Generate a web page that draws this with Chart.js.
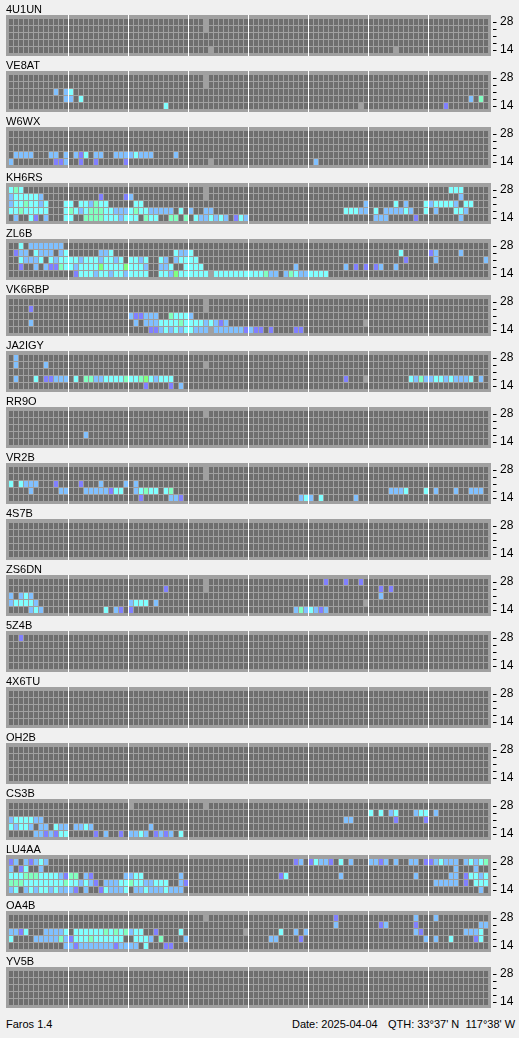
<!DOCTYPE html>
<html>
<head>
<meta charset="utf-8">
<script src="https://cdn.jsdelivr.net/npm/chart.js@4.4.1/dist/chart.umd.min.js"></script>
<style>
  html, body { margin: 0; padding: 0; background: #f0f0f0; }
  #page { position: relative; width: 519px; height: 1038px; overflow: hidden;
          font-family: "Liberation Sans", Arial, sans-serif; font-size: 11px; color: #000; }
  .panel { position: absolute; left: 0; width: 519px; height: 56px; }
  .panel canvas { position: absolute; left: 0; top: 0; }
  .name { position: absolute; left: 6px; top: 2.5px; line-height: 13px; white-space: pre; }
  .foot { position: absolute; line-height: 13px; white-space: pre; }
</style>
</head>
<body>
<div id="page">
  <div class="foot" style="left:6px; top:1018px;">Faros 1.4</div>
  <div class="foot" style="left:292px; top:1018px;">Date: 2025-04-04</div>
  <div class="foot" style="left:388px; top:1018px;">QTH: 33°37' N  117°38' W</div>
</div>
<script>
// Faros ビーコン受信マップ（18局 × 5バンド × 96スロット）

// バンド（上から 28 → 14 MHz）
const bands = ['28', '24', '21', '18', '14'];
// 15分スロット 96本
const slots = [];
for (let h = 0; h < 24; h++) {
  for (let m = 0; m < 60; m += 15) slots.push(String(h).padStart(2, '0') + ':' + String(m).padStart(2, '0'));
}

// 受信レベル: v=1 b=2 c=3 m=4 g=5, x=データなし
// 各局: バンド順（28,24,21,18,14）に "列番号+レベル" を並べたもの
const st4U1UN = ['39x', '39x', '', '', '40x 77x'];
const stVE8AT = ['39x', '39x', '9b 11b 12c', '11b 12b 14c 92b 94m', '31c 70x 87v'];
const stW6WX = ['', '', '',
  '1b 2b 3b 4b 8b 9b 11b 13b 14v 15c 17b 18b 21b 22b 23b 24b 25c 26b 27b 28b 33b',
  '0b 9v 10v 11b 14v 17v 23v 40x 61b'];
const stKH6RS = [
  '0c 1m 2c 39x 88c 89c 90c',
  '0b 1c 2c 3c 4c 5c 6b 18v 23v 24b 39x 90b',
  '0b 1c 2c 3m 4c 5c 6b 7c 11c 12c 14c 15c 16b 17m 18c 19c 25c 26c 71b 77c 79b 83c 84b 85c 86c 87c 88c 89b 91c 92c',
  '0c 1c 2m 3c 4c 5c 6c 7c 11c 12m 13c 14b 15c 16m 17m 18m 19c 20c 21b 22b 23b 24c 25m 26c 27c 28b 29b 30b 31b 32b 34c 36b 39b 40b 67c 68c 69c 70b 71b 73c 75b 76b 77b 78b 79c 80b 83c 85b 89c 90c 91b',
  '1b 4c 5v 7b 11c 12c 15m 16m 17m 18m 19c 20c 21c 22b 23c 24c 25c 27m 28c 29c 32m 33m 35m 37c 38b 39b 40c 41b 42c 43b 45v 46c 47b 73b 74b 75b 81v 90b'];
const stZL6B = [
  '2c 4b 5b 6b 7b 8b 9b 10b',
  '1v 2b 3b 5c 6b 7b 8b 10b 11c 18b 19b 20c 33c 34b 35b 36c 78c 84v 85b 90b',
  '2c 3b 4b 5b 6c 8c 9b 10c 11c 12c 13c 14b 15c 16c 17c 18b 19c 20c 21b 22c 24c 25c 26b 27c 30c 31b 33b 34c 35c 36c 37c 79v 85b 95b',
  '2v 5b 7b 8v 9v 10m 11c 12c 13b 14c 15c 16c 17c 18g 19c 20c 21c 22c 23g 24c 25c 26c 27b 30b 31b 32c 35c 36c 37c 38c 57b 67b 69v 71v 73v 74b 77b',
  '13v 14c 15c 16c 17b 18c 19c 20b 21c 22c 23b 24c 25c 26c 27c 30c 31c 32b 33g 34c 35c 36c 37c 38c 39c 40x 41c 42c 43c 44c 45c 46c 47c 48c 49c 50c 51m 52b 53b 55b 56m 57c 58b 59b 60c 61c 62c 63c'];
const stVK6RBP = [
  '39x',
  '4v 39x',
  '24b 25v 26v 27b 28b 29b 32m 33c 34c 35c 36b',
  '4b 25b 27b 28b 29b 30c 31c 32c 33c 34m 35c 36c 37c 38c 39b 40c 41b 42v 43b 71x',
  '28v 29v 30b 31c 32b 33c 34b 35c 36c 37b 38b 39b 40x 41b 42b 43b 44b 45b 46b 47v 48b 49v 50v 52v 57v 58v'];
const stJA2IGY = [
  '1b',
  '1b 7b 39x',
  '',
  '1b 5c 7v 8v 9b 10b 11b 13c 15m 16m 17b 18b 19c 20c 21c 22c 23m 24c 25c 26m 27g 28c 29b 30c 31c 32c 67v 71x 80c 81b 82m 83b 84b 85c 86c 87b 88c 89b 90b 91b 92c 94b',
  '27v 32v 34b'];
const stRR9O = ['39x', '', '', '15b', ''];
const stVR2B = [
  '39x',
  '39x',
  '0c 2c 3b 4b 5b 9v 14v 18b 23b 25b',
  '4b 10b 11b 15b 16b 17b 18b 19b 20v 21c 22c 25b 26c 27m 28c 29c 31c 32m 76b 77b 78b 79c 83c 85b 89b 92b 93b 94b',
  '26v 32b 33b 34v 58b 59c 60b 62c 69b'];
const st4S7B = ['', '', '', '', ''];
const stZS6DN = [
  '39x 63v 67v 70v',
  '31v 39x 74v 76v',
  '0b 2b 3c 4b 74b',
  '0b 1c 2c 3c 4c 5b 24b 25c 26c 27c 29b 71x',
  '4b 5c 6b 19c 21b 22v 24v 57b 58m 59b 60c 61b 62v 63b'];
const st5Z4B = ['2v', '', '', '', ''];
const st4X6TU = ['', '', '', '', ''];
const stOH2B = ['', '', '', '', ''];
const stCS3B = [
  '24x 39x',
  '72c 74c 76b 77c 81b 82c 83c 85b',
  '0b 1c 2c 3c 4c 5b 6b 67b 68b 77v 83v',
  '0c 1b 2c 3c 4b 6b 7b 9c 10b 11b 13b 14b 15c 16b 28b',
  '5b 6b 7v 8b 9v 10c 11c 17v 19b 22v 24b 25b 26c 27b 29v 30b 31v 32b 34c'];
const stLU4AA = [
  '0v 1b 3b 4v 5b 6c 7b 57v 58b 60v 61c 62b 63b 64v 66c 68b 72b 73b 74v 75b 77b 80b 81b 83v 84v 85b 86c 87b 88b 89b 91b 92c 93b 94c 95m',
  '0b 2v 3c 6b 89b 93b',
  '0c 1c 2c 3m 4m 5m 6c 7c 8c 9c 10b 11v 12m 13m 15b 16v 23b 24b 25c 26c 34b 54v 55c 66b 81b 88b 89b 91v 92c 93c 94b 95c',
  '0m 1m 2m 3c 4c 5c 6c 7c 8c 9c 10c 11m 12c 13c 14b 15c 16b 17v 19b 20b 21b 22c 23c 24m 25c 26c 27b 28b 29c 30c 31c 34b 35v 85b 86b 87b 88b 89b 91v 93c 94c 95c',
  '0b 1c 3b 4c 5b 6c 7c 8b 9c 10b 11b 12b 13v 15b 18v 19c 20b 21b 22b 23c 25b 26b 27c 28b 29b 30b 31c 32b 33b 34b 94b'];
const stOA4B = [
  '39x 65v 81b 85b',
  '65b 74v 75b 81v 94b 95b',
  '0b 1b 2v 3c 7b 8b 9b 10b 11c 13c 14c 15c 16c 17c 18c 19m 20c 21m 22c 23m 24b 25c 26c 29v 34c 47x 54c 57b 59b 81b 82v 91b 92b 93b 94c',
  '0c 5b 6b 7b 8b 9b 10m 11b 12v 13c 14c 15c 16m 17c 18c 19c 20c 21c 22c 25c 26c 27c 28b 30m 35b 52b 53b 58v 83b 85b 88c 93v 94c',
  '11b 12b 13v 14b 15b 16b 17b 18b 19b 20b 21v 22b 23b 24b 25b 27c 31v 32v'];
const stYV5B = ['', '', '', '', ''];

const stationNames = ['4U1UN', 'VE8AT', 'W6WX', 'KH6RS', 'ZL6B', 'VK6RBP', 'JA2IGY', 'RR9O', 'VR2B',
  '4S7B', 'ZS6DN', '5Z4B', '4X6TU', 'OH2B', 'CS3B', 'LU4AA', 'OA4B', 'YV5B'];
const stationRows = [st4U1UN, stVE8AT, stW6WX, stKH6RS, stZL6B, stVK6RBP, stJA2IGY, stRR9O, stVR2B,
  st4S7B, stZS6DN, st5Z4B, st4X6TU, stOH2B, stCS3B, stLU4AA, stOA4B, stYV5B];

const levelColors = {
  '.': '#6e6e6e', x: '#a0a0a0',
  v: '#8080ff', b: '#80c0ff', c: '#80ffff', m: '#80ffc0', g: '#80ff80'
};

// "12c 13b" → 96 要素の配列
function parseRow(spec) {
  const row = slots.map(() => '.');
  spec.split(' ').filter(Boolean).forEach(tok => {
    const col = parseInt(tok, 10);
    row[col] = tok.slice(String(col).length);
  });
  return row;
}

// パネル背景（セル間のグレー）
const panelBg = {
  id: 'panelBg',
  beforeDraw(chart) {
    const { ctx, chartArea: a } = chart;
    ctx.save();
    ctx.fillStyle = '#a0a0a0';
    ctx.fillRect(a.left - 2.5, a.top, a.right - a.left + 5, a.bottom - a.top);
    ctx.restore();
  }
};

const page = document.getElementById('page');

stationNames.forEach((name, k) => {
  const panel = document.createElement('div');
  panel.className = 'panel';
  panel.style.top = (56 * k) + 'px';
  const canvas = document.createElement('canvas');
  canvas.width = 519;
  canvas.height = 56;
  panel.appendChild(canvas);
  const label = document.createElement('div');
  label.className = 'name';
  label.textContent = name;
  panel.appendChild(label);
  page.appendChild(panel);

  const rows = stationRows[k].map(parseRow);

  // データセット j = 下から j 番目のバンド
  const datasets = bands.map((b, i) => {
    const j = bands.length - 1 - i;
    return {
      label: b,
      data: rows[i].map(() => [j + 1 / 14, j + 13 / 14]),
      backgroundColor: rows[i].map(v => levelColors[v]),
      borderWidth: 0,
      inflateAmount: 0,
      barThickness: 4,
      grouped: false
    };
  });

  new Chart(canvas, {
    type: 'bar',
    data: { labels: slots, datasets },
    options: {
      responsive: false,
      animation: false,
      devicePixelRatio: 1,
      events: [],
      layout: { padding: { top: 15, bottom: 0, left: 8.5, right: 0.5 } },
      plugins: { legend: { display: false }, tooltip: { enabled: false } },
      scales: {
        x: {
          type: 'category',
          offset: true,
          ticks: { display: false },
          border: { display: false },
          grid: {
            offset: true,
            drawTicks: false,
            lineWidth: 1,
            color: c => (c.index % 12 === 0 && c.index > 0 && c.index < 96) ? '#ffffff' : 'rgba(0,0,0,0)'
          },
          afterFit(s) { s.height = 0; s.paddingLeft = 0; s.paddingRight = 0; }
        },
        y: {
          type: 'linear',
          position: 'right',
          min: -2.5 / 7,
          max: 5.5,
          border: { display: false },
          afterBuildTicks(s) { s.ticks = [0.5, 1.5, 2.5, 3.5, 4.5].map(v => ({ value: v })); },
          afterFit(s) { s.width = 30; s.paddingTop = 0; s.paddingBottom = 0; },
          ticks: {
            autoSkip: false,
            padding: 3.5,
            color: '#000',
            font: { family: '"Liberation Sans", Arial, sans-serif', size: 12 },
            callback: v => (v === 4.5 ? bands[0] : v === 0.5 ? bands[4] : '')
          },
          grid: {
            drawOnChartArea: false,
            drawTicks: true,
            tickLength: 8,
            tickColor: '#000',
            tickWidth: 1,
            tickBorderDash: [4, 4],
            tickBorderDashOffset: 4
          }
        }
      }
    },
    plugins: [panelBg]
  });
});
</script>
</body>
</html>
